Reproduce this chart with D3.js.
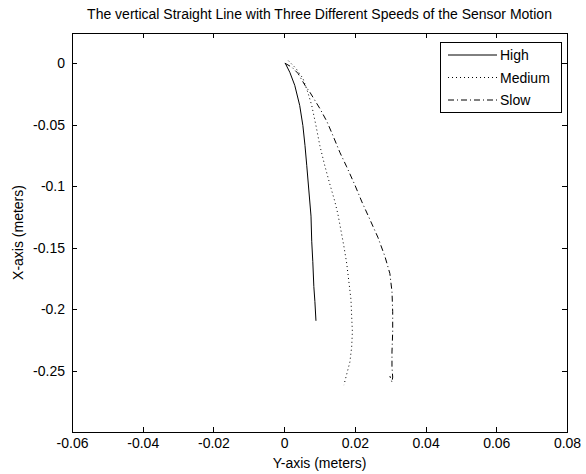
<!DOCTYPE html>
<html><head><meta charset="utf-8">
<script src="https://cdn.jsdelivr.net/npm/d3@7"></script>
<style>
body{margin:0;background:#fff;}
text{font-family:"Liberation Sans",Arial,sans-serif;fill:#000;}
</style></head>
<body><svg id="c" width="586" height="474"></svg>
<script>
const title = "The vertical Straight Line with Three Different Speeds of the Sensor Motion";
const xLabel = "Y-axis (meters)";
const yLabel = "X-axis (meters)";
const xTicks = [-0.06,-0.04,-0.02,0,0.02,0.04,0.06,0.08];
const yTicks = [0,-0.05,-0.1,-0.15,-0.2,-0.25];
const seriesNames = ["High","Medium","Slow"];
// [horizontal value, vertical value]
const highData = [[0.0003,0],[0.0016,-0.0074],[0.0030,-0.018],[0.0044,-0.0343],[0.0053,-0.0507],[0.0059,-0.067],[0.0064,-0.0833],[0.0070,-0.1038],[0.0076,-0.1242],[0.0078,-0.1446],[0.0081,-0.1609],[0.0084,-0.1814],[0.0087,-0.1936],[0.0090,-0.2092]];
const mediumData = [[0.0012,0.002],[0.0033,-0.0041],[0.0053,-0.0123],[0.0067,-0.0237],[0.0078,-0.0343],[0.0090,-0.0507],[0.0101,-0.067],[0.0115,-0.0833],[0.0129,-0.098],[0.0143,-0.1119],[0.0152,-0.1225],[0.0160,-0.1348],[0.0169,-0.1487],[0.0177,-0.1626],[0.0183,-0.1773],[0.0189,-0.192],[0.0191,-0.2059],[0.0193,-0.2181],[0.0191,-0.2304],[0.0186,-0.2426],[0.0177,-0.2525],[0.0169,-0.2614]];
const slowData = [[0.0002,0],[0.0022,-0.0033],[0.0039,-0.0082],[0.0059,-0.018],[0.0073,-0.0237],[0.0101,-0.0368],[0.0121,-0.0474],[0.0138,-0.0588],[0.0158,-0.0727],[0.0177,-0.0842],[0.0200,-0.0989],[0.0220,-0.1127],[0.0242,-0.1266],[0.0265,-0.1413],[0.0285,-0.1569],[0.0299,-0.1708],[0.0305,-0.1855],[0.0307,-0.2018],[0.0307,-0.2181],[0.0305,-0.2345],[0.0305,-0.2467],[0.0307,-0.2549],[0.0305,-0.259],[0.0299,-0.2541]];
const dashes = ["none","1,3","6,3,1,3"];

const L=72,R=567,T=33,B=432;
const FS=14;
const svg=d3.select("#c");
const x=d3.scaleLinear().domain([-0.06,0.08]).range([L,R]);
const y=d3.scaleLinear().domain([-0.2995,0.0245]).range([B,T]);

svg.append("rect").attr("x",L).attr("y",T).attr("width",R-L).attr("height",B-T).attr("fill","#fff").attr("stroke","#000").attr("stroke-width",1).attr("shape-rendering","crispEdges");

const fmt=d=>d===0?"0":String(d);
const tk=5;
const bx=svg.append("g").attr("transform",`translate(0,${B})`).call(d3.axisBottom(x).tickValues(xTicks).tickFormat(fmt).tickSizeInner(-tk).tickSizeOuter(0).tickPadding(6));
const tx=svg.append("g").attr("transform",`translate(0,${T})`).call(d3.axisTop(x).tickValues(xTicks).tickFormat("").tickSizeInner(-tk).tickSizeOuter(0));
const ly=svg.append("g").attr("transform",`translate(${L},0)`).call(d3.axisLeft(y).tickValues(yTicks).tickFormat(fmt).tickSizeInner(-tk).tickSizeOuter(0).tickPadding(7));
const ry=svg.append("g").attr("transform",`translate(${R},0)`).call(d3.axisRight(y).tickValues(yTicks).tickFormat("").tickSizeInner(-tk).tickSizeOuter(0));
[bx,tx,ly,ry].forEach(g=>{g.select(".domain").remove();g.selectAll("line").attr("stroke","#000").attr("shape-rendering","crispEdges");g.selectAll("text").attr("font-size",FS).attr("font-family","Liberation Sans, Arial, sans-serif").attr("fill","#000");});

const line=d3.line().x(d=>x(d[0])).y(d=>y(d[1]));
[highData,mediumData,slowData].forEach((s,i)=>{
  svg.append("path").datum(s).attr("d",line).attr("fill","none").attr("stroke","#000").attr("stroke-width",1).attr("stroke-dasharray",dashes[i]);
});

svg.append("text").attr("x",(L+R)/2).attr("y",19).attr("text-anchor","middle").attr("font-size",FS).text(title);
svg.append("text").attr("x",(L+R)/2).attr("y",468).attr("text-anchor","middle").attr("font-size",FS).text(xLabel);
svg.append("text").attr("transform",`translate(23,${(T+B)/2}) rotate(-90)`).attr("text-anchor","middle").attr("font-size",FS).text(yLabel);

const lg=svg.append("g");
lg.append("rect").attr("x",440).attr("y",42).attr("width",121).attr("height",70).attr("fill","#fff").attr("stroke","#000").attr("shape-rendering","crispEdges");
seriesNames.forEach((n,i)=>{
  const yy=55+i*22.5;
  lg.append("line").attr("x1",448).attr("x2",497).attr("y1",yy).attr("y2",yy).attr("stroke","#000").attr("stroke-dasharray",dashes[i]);
  lg.append("text").attr("x",500).attr("y",yy+5).attr("font-size",FS).text(n);
});
</script></body></html>
